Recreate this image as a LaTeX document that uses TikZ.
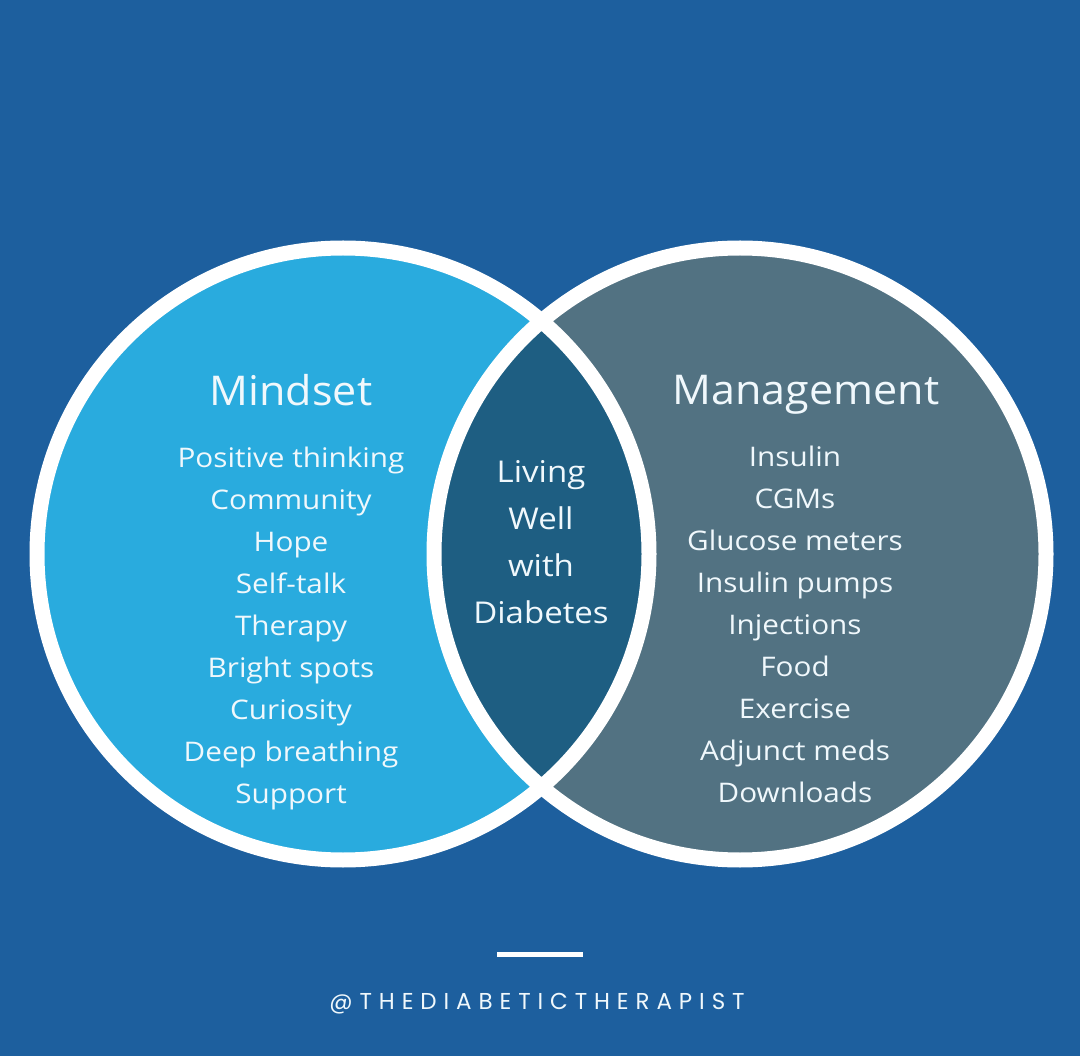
\documentclass[tikz,border=0pt]{standalone}
\usepackage{fontspec}
\setmainfont[FakeStretch=1.1]{Open Sans}
\newfontfamily\titlefont[FakeStretch=1.05]{Open Sans}
\newfontfamily\handlefont[LetterSpace=30]{Poppins}
\definecolor{bg}{RGB}{29,95,158}
\definecolor{leftc}{RGB}{41,171,222}
\definecolor{rightc}{RGB}{82,114,130}
\definecolor{lensc}{RGB}{30,94,130}
\definecolor{txt}{RGB}{240,248,252}
\tikzset{
  ring/.style={draw=white, line width=15pt},
  disc/.style={circle, minimum size=612pt, inner sep=0pt},
  title/.style={text=txt, font=\titlefont\fontsize{41}{48}\selectfont},
  items/.style={text=txt, align=center, font=\fontsize{27}{42}\selectfont},
  centre/.style={text=txt, align=center, font=\fontsize{30}{47}\selectfont},
}
\begin{document}
\begin{tikzpicture}[x=1pt,y=-1pt]
\fill[bg] (0,0) rectangle (1080,1056);
\useasboundingbox (0,0) rectangle (1080,1056);
\node[disc, fill=leftc] (L) at (343,554) {};
\node[disc, fill=rightc] (R) at (740,554) {};
\begin{scope}
  \clip (L.center) circle (306pt);
  \fill[lensc] (R.center) circle (306pt);
\end{scope}
\draw[ring] (L.center) circle (306pt);
\draw[ring] (R.center) circle (306pt);
\node[title] (mindset) at (291,390) {Mindset};
\node[title] (management) at (806,395) {Management};
\node[items] (mlist) at (291,628) {Positive thinking\\Community\\Hope\\Self-talk\\Therapy\\Bright spots\\Curiosity\\Deep breathing\\Support};
\node[items] (glist) at (795,624) {Insulin\\CGMs\\Glucose meters\\Insulin pumps\\Injections\\Food\\Exercise\\Adjunct meds\\Downloads};
\node[centre] (living) at (541,542) {Living\\Well\\with\\Diabetes};
\fill[white] (497,952) rectangle (583,957);
\node[text=txt, font=\handlefont\fontsize{23}{26}\selectfont] (handle) at (537,1004) {@THEDIABETICTHERAPIST};
\end{tikzpicture}
\end{document}
